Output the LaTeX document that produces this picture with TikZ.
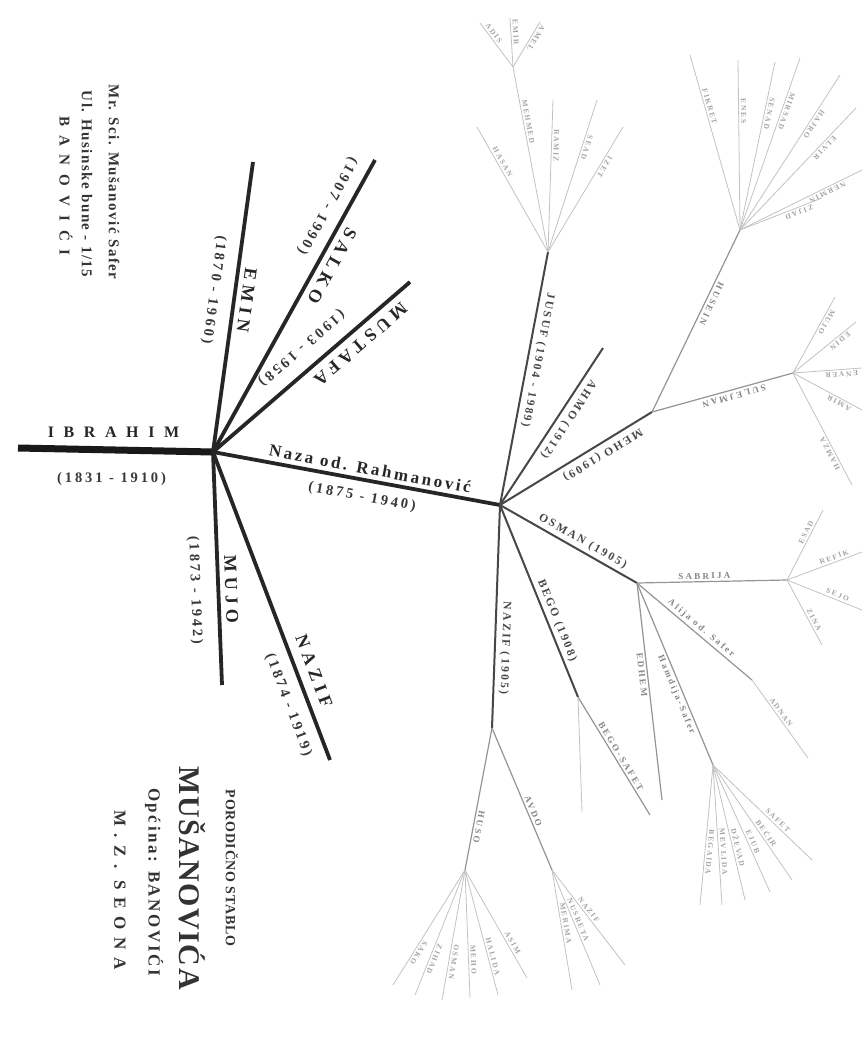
\documentclass[tikz,border=0pt]{standalone}
\usepackage{fontspec}
\setmainfont{Liberation Serif}
\usetikzlibrary{calc}

\tikzset{
	trunk/.style={line width=7pt, black!90},
	gen1/.style={line width=3.8pt, black!85},
	gen2/.style={line width=2pt, black!72},
	gen3/.style={line width=1.2pt, black!42},
	gen4/.style={line width=0.8pt, black!24},
	along/.style={sloped, allow upside down, inner sep=1pt},
	name1/.style={font=\bfseries\fontsize{18}{18}\selectfont\addfontfeature{LetterSpace=28}, black!85},
	date1/.style={font=\bfseries\fontsize{14.5}{14.5}\selectfont\addfontfeature{LetterSpace=20}, black!78},
	name2/.style={font=\bfseries\fontsize{11.5}{11.5}\selectfont\addfontfeature{LetterSpace=20}, black!72},
	name3/.style={font=\bfseries\fontsize{9}{9}\selectfont\addfontfeature{LetterSpace=25}, black!48},
	name4/.style={font=\bfseries\fontsize{7.5}{7.5}\selectfont\addfontfeature{LetterSpace=22}, black!36},
	title/.style={rotate=-90, inner sep=0pt, black!80},
}

\begin{document}
\begin{tikzpicture}[x=1pt, y=-1pt]
	\useasboundingbox (0,0) rectangle (863,1054);
	% natpis gore lijevo
	\node[title, font=\bfseries\fontsize{15}{15}\selectfont\addfontfeature{LetterSpace=10}] (adr1) at (114,182) {Mr. Sci. Mušanović Safer};
	\node[title, font=\bfseries\fontsize{15}{15}\selectfont\addfontfeature{LetterSpace=10}] (adr2) at (87,184) {Ul. Husinske bune - 1/15};
	\node[title, font=\bfseries\fontsize{15}{15}\selectfont\addfontfeature{LetterSpace=60}] (adr3) at (66,186) {BANOVIĆI};
	% naslov dole lijevo
	\node[title, font=\bfseries\fontsize{14}{14}\selectfont\addfontfeature{LetterSpace=5}] (nas1) at (232,868) {PORODIČNO STABLO};
	\node[title, font=\bfseries\fontsize{30}{30}\selectfont\addfontfeature{LetterSpace=5}] (nas2) at (192,878) {MUŠANOVIĆA};
	\node[title, font=\bfseries\fontsize{17}{17}\selectfont\addfontfeature{LetterSpace=15}] (nas3) at (154,882) {Općina: BANOVIĆI};
	\node[title, font=\bfseries\fontsize{17}{17}\selectfont\addfontfeature{LetterSpace=45}] (nas4) at (120,890) {M.Z. SEONA};

	% prva generacija
	\coordinate (root) at (18,448);
	\coordinate (ibrahim) at (213,452);
	\coordinate (emin) at (253,162);
	\coordinate (salko) at (375,160);
	\coordinate (mustafa) at (410,282);
	\coordinate (mujo) at (222,685);
	\coordinate (nazif) at (330,760);
	\coordinate (naza) at (500,505);
	\draw[trunk] (root) -- (ibrahim)
		node[name1, pos=0.49, above=6pt, font=\bfseries\fontsize{16}{16}\selectfont\addfontfeature{LetterSpace=60}] {IBRAHIM}
		node[date1, pos=0.48, below=16pt] {(1831 - 1910)};
	\draw[gen1] (emin) -- (ibrahim)
		node[name1, along, pos=0.47, above=4pt] {EMIN}
		node[date1, along, pos=0.45, below=12pt] {(1870 - 1960)};
	\draw[gen1] (salko) -- (ibrahim)
		node[name1, along, pos=0.34, above=5pt] {SALKO}
		node[date1, along, pos=0.19, below=10pt] {(1907 - 1990)};
	\draw[gen1] (mustafa) -- (ibrahim)
		node[name1, along, pos=0.3, above=6pt] {MUSTAFA}
		node[date1, along, pos=0.48, below=12pt] {(1903 - 1958)};
	\draw[gen1] (ibrahim) -- (mujo)
		node[name1, along, pos=0.59, above=4pt] {MUJO}
		node[date1, along, pos=0.59, below=14pt] {(1873 - 1942)};
	\draw[gen1] (ibrahim) -- (nazif)
		node[name1, along, pos=0.73, above=8pt] {NAZIF}
		node[date1, along, pos=0.80, below=10pt] {(1874 - 1919)};
	\draw[gen1] (ibrahim) -- (naza)
		node[name1, along, pos=0.54, above=3pt, font=\bfseries\fontsize{17}{17}\selectfont\addfontfeature{LetterSpace=16}] {Naza od. Rahmanović}
		node[date1, along, pos=0.53, below=8pt] {(1875 - 1940)};

	% druga generacija
	\coordinate (jusuf) at (548,252);
	\coordinate (ahmo) at (603,348);
	\coordinate (meho) at (652,412);
	\coordinate (osman) at (637,583);
	\coordinate (bego) at (578,697);
	\coordinate (nazif2) at (492,728);
	\draw[gen2] (jusuf) -- (naza) node[name2, along, pos=0.42, above=3pt] {JUSUF (1904 - 1989)};
	\draw[gen2] (ahmo) -- (naza) node[name2, along, pos=0.42, above=3pt] {AHMO (1912)};
	\draw[gen2] (meho) -- (naza) node[name2, along, pos=0.36, above=3pt] {MEHO (1909)};
	\draw[gen2] (naza) -- (osman) node[name2, along, pos=0.57, above=2pt] {OSMAN (1905)};
	\draw[gen2] (naza) -- (bego) node[name2, along, pos=0.62, above=2pt] {BEGO (1908)};
	\draw[gen2] (naza) -- (nazif2) node[name2, along, pos=0.64, above=3pt] {NAZIF (1905)};

	% treca generacija
	\coordinate (husein) at (740,230);
	\coordinate (sulejman) at (793,373);
	\coordinate (sabrija) at (787,580);
	\coordinate (alija) at (752,680);
	\coordinate (hamdija) at (713,765);
	\coordinate (edhem) at (662,800);
	\coordinate (begosafet) at (650,815);
	\coordinate (begokraj) at (582,812);
	\coordinate (huso) at (465,870);
	\coordinate (avdo) at (552,870);
	\draw[gen3] (husein) -- (meho) node[name3, along, pos=0.39, above=2pt] {HUSEIN};
	\draw[gen3] (sulejman) -- (meho) node[name3, along, pos=0.43, above=2pt] {SULEJMAN};
	\draw[gen3] (osman) -- (sabrija) node[name3, along, pos=0.45, above=1pt] {SABRIJA};
	\draw[gen3] (osman) -- (alija) node[name3, along, pos=0.52, above=1pt] {Alija od. Safer};
	\draw[gen3] (osman) -- (hamdija) node[name3, along, pos=0.6, below=1pt] {Hamdija-Safer};
	\draw[gen3] (osman) -- (edhem) node[name3, along, pos=0.42, below=1pt] {EDHEM};
	\draw[gen3] (bego) -- (begosafet) node[name3, along, pos=0.53, above=1pt] {BEGO-SAFET};
	\draw[gen4] (bego) -- (begokraj);
	\draw[gen3] (nazif2) -- (huso) node[name3, along, pos=0.69, above=1pt] {HUSO};
	\draw[gen3] (nazif2) -- (avdo) node[name3, along, pos=0.6, above=1pt] {AVDO};

	% cetvrta generacija
	\foreach \x/\y/\n [count=\i] in {477/127/HASAN, 513/67/MEHMED, 553/100/RAMIZ, 597/100/SEAD, 623/127/IZET}{
		\coordinate (ju\i) at (\x,\y);
		\draw[gen4] (ju\i) -- (jusuf) node[name4, along, pos=0.3, above=1pt] {\n};
	}
	\foreach \x/\y/\n [count=\i] in {480/23/ADIS, 510/18/EMIR, 540/22/AMEL}{
		\coordinate (me\i) at (\x,\y);
		\draw[gen4] (me\i) -- (ju2) node[name4, along, pos=0.3, above=1pt] {\n};
	}
	\foreach \x/\y/\n [count=\i] in {690/55/FIKRET, 738/60/ENES, 775/62/SENAD, 800/58/MIRSAD, 840/75/HAJRO, 856/108/ELVIR, 862/170/NERMIN, 822/198/ZIJAD}{
		\coordinate (hs\i) at (\x,\y);
		\draw[gen4] (hs\i) -- (husein) node[name4, along, pos=0.3, above=1pt] {\n};
	}
	\foreach \x/\y/\n [count=\i] in {835/297/MUJO, 856/322/EDIN, 862/368/ENVER, 862/410/AMIR, 852/485/HAMZA}{
		\coordinate (su\i) at (\x,\y);
		\draw[gen4] (su\i) -- (sulejman) node[name4, along, pos=0.3, above=1pt] {\n};
	}
	\foreach \x/\y/\n [count=\i] in {823/510/ESAD, 862/552/REFIK, 862/610/SEJO, 822/645/ZINA}{
		\coordinate (sa\i) at (\x,\y);
		\draw[gen4] (sabrija) -- (sa\i) node[name4, along, pos=0.65, above=1pt] {\n};
	}
	\coordinate (adnan) at (808,758);
	\draw[gen4] (alija) -- (adnan) node[name4, along, pos=0.45, above=1pt] {ADNAN};
	\foreach \x/\y/\n [count=\i] in {700/905/BEGAIDA, 722/905/MEVLIDA, 745/900/DŽEVAD, 770/892/EJUB, 792/880/BEĆIR, 812/860/SAFET}{
		\coordinate (hm\i) at (\x,\y);
		\draw[gen4] (hamdija) -- (hm\i) node[name4, along, pos=0.62, above=1pt] {\n};
	}
	\foreach \x/\y/\n [count=\i] in {393/985/SAKO, 415/995/ZIHAD, 442/1000/OSMAN, 470/998/MEHO, 498/995/HALIDA, 527/978/ASIM}{
		\coordinate (hu\i) at (\x,\y);
		\draw[gen4] (huso) -- (hu\i) node[name4, along, pos=0.7, above=1pt] {\n};
	}
	\foreach \x/\y/\n [count=\i] in {572/990/MERIMA, 600/985/NUSRETA, 625/965/NAZIF}{
		\coordinate (av\i) at (\x,\y);
		\draw[gen4] (avdo) -- (av\i) node[name4, along, pos=0.45, above=1pt] {\n};
	}
\end{tikzpicture}
\end{document}
